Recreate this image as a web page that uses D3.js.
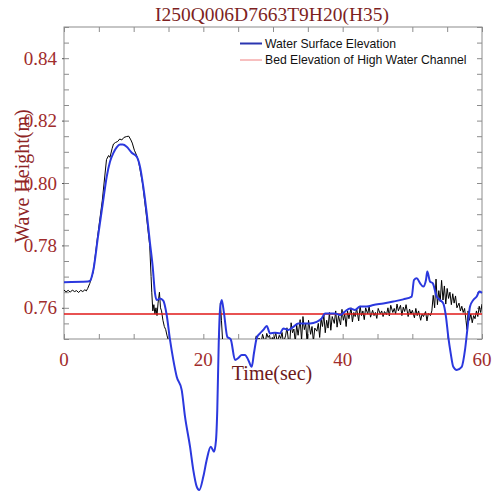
<!DOCTYPE html>
<html>
<head>
<meta charset="utf-8">
<script src="https://cdn.jsdelivr.net/npm/d3@7"></script>
<style>
  html, body { margin: 0; padding: 0; background: #fff; }
  svg { display: block; }
</style>
</head>
<body>
<svg id="chart" width="498" height="491"></svg>
<script>
// ---------- DATA ----------
const chartTitle = "I250Q006D7663T9H20(H35)";
const xLabel = "Time(sec)";
const yLabel = "Wave Height(m)";
const legendLabels = ["Water Surface Elevation", "Bed Elevation of High Water Channel"];
const xTickValues = [0, 20, 40, 60];
const yTickValues = [0.76, 0.78, 0.80, 0.82, 0.84];
const bedElevation = 0.758;

// simulated water surface elevation [time (s), height (m)]
const simulated = [
  [0, 0.7682], [3.44, 0.7684], [3.73, 0.7686], [4.21, 0.7721], [4.88, 0.7828],
  [5.64, 0.7946], [6.13, 0.8020], [6.60, 0.8068], [7.08, 0.8096], [7.56, 0.8114],
  [8.04, 0.8123], [8.43, 0.8123], [9.0, 0.8116], [9.72, 0.8097], [10.44, 0.8084],
  [10.91, 0.8052], [11.38, 0.7988], [11.87, 0.7904], [12.34, 0.7808], [12.73, 0.7732],
  [13.06, 0.7647], [13.31, 0.7625], [13.78, 0.7630], [14.25, 0.7623], [14.74, 0.7577],
  [15.22, 0.7497], [15.69, 0.7433], [16.18, 0.7379], [16.89, 0.7337], [17.37, 0.7251],
  [18.09, 0.7155], [18.56, 0.7080], [19.05, 0.7027], [19.42, 0.7016], [20.0, 0.7059],
  [20.48, 0.7112], [21.06, 0.7155], [21.53, 0.7139], [21.82, 0.7176], [22.0, 0.7272],
  [22.21, 0.7487], [22.39, 0.7593], [22.64, 0.7625], [22.97, 0.7582], [23.44, 0.7507],
  [23.93, 0.7499], [24.55, 0.7433], [25.02, 0.7439], [25.51, 0.7449], [25.98, 0.7449],
  [26.45, 0.7433], [26.94, 0.7411], [27.27, 0.7455], [27.66, 0.7503], [28.13, 0.7518],
  [28.61, 0.7529], [29.10, 0.7542], [29.57, 0.7518], [30.29, 0.7520], [31.0, 0.7518],
  [31.48, 0.7534], [32.2, 0.7529], [32.91, 0.7539], [33.63, 0.7550], [34.35, 0.7550],
  [35.31, 0.7550], [36.27, 0.7555], [36.99, 0.7566], [37.46, 0.7582], [38.18, 0.7582],
  [38.90, 0.7582], [39.62, 0.7577], [40.33, 0.7588], [41.05, 0.7598], [41.77, 0.7593],
  [42.49, 0.7604], [43.45, 0.7604], [44.40, 0.7609], [45.83, 0.7614], [47.27, 0.7620],
  [48.70, 0.7627], [49.91, 0.7636], [50.24, 0.7689], [50.63, 0.7695], [51.10, 0.7679],
  [51.57, 0.7668], [51.96, 0.7689], [52.15, 0.7716], [52.54, 0.7684], [52.92, 0.7679],
  [53.50, 0.7636], [53.97, 0.7625], [54.44, 0.7614], [54.83, 0.7571], [55.16, 0.7507],
  [55.51, 0.7454], [55.88, 0.7411], [56.37, 0.7401], [57.09, 0.7411], [57.56, 0.7465],
  [57.89, 0.7529], [58.28, 0.7604], [58.75, 0.7625], [59.24, 0.7636], [59.61, 0.7652],
  [60, 0.7648]
];

// measured water surface [time (s), height (m)]
const measured = [
  [0, 0.7657], [0.3, 0.7651], [0.6, 0.7656], [0.9, 0.7650], [1.2, 0.7657], [1.5, 0.7652],
  [1.8, 0.7655], [2.1, 0.7649], [2.4, 0.7656], [2.7, 0.7652], [3.0, 0.7658], [3.2, 0.7654],
  [3.4, 0.7662], [3.7, 0.7678], [4.2, 0.7715], [4.8, 0.7825], [5.5, 0.7945],
  [6.1, 0.8075], [6.4, 0.8088], [6.6, 0.8082], [6.9, 0.8110], [7.1, 0.8125], [7.4, 0.8130],
  [7.7, 0.8133], [8.0, 0.8141], [8.3, 0.8138], [8.6, 0.8146], [9.0, 0.8149], [9.3, 0.8150],
  [9.6, 0.8138], [9.8, 0.8128], [10.1, 0.8105], [10.4, 0.8090], [10.7, 0.8070],
  [11.3, 0.7995], [11.8, 0.7900], [12.3, 0.7800], [12.5, 0.7700], [12.6, 0.7650],
  [12.75, 0.7590], [12.9, 0.7610], [13.05, 0.7580], [13.2, 0.7600], [13.35, 0.7575],
  [13.5, 0.7615], [13.7, 0.7650], [13.85, 0.7600], [14.0, 0.7590], [14.2, 0.7560],
  [14.4, 0.7540], [14.6, 0.7530], [14.8, 0.7510], [15.0, 0.7495], [15.3, 0.7450],
  [16, 0.7380], [18, 0.7200], [20, 0.7150], [21.5, 0.7200], [22.0, 0.7400], [22.3, 0.7520],
  [22.45, 0.7615], [22.6, 0.7560], [22.8, 0.7480], [23.5, 0.7420], [25, 0.7420],
  [26.5, 0.7440], [27.2, 0.7480],
  [27.4, 0.7492], [27.6, 0.7510], [27.8, 0.7495], [28.0, 0.7503], [28.3, 0.7488],
  [28.5, 0.7515], [28.7, 0.7500], [28.9, 0.7490], [29.1, 0.7518], [29.3, 0.7505],
  [29.5, 0.7512], [29.7, 0.7488], [29.9, 0.7505], [30.1, 0.7495], [30.4, 0.7520],
  [30.6, 0.7490], [30.9, 0.7512], [31.1, 0.7502], [31.3, 0.7521], [31.5, 0.7488],
  [31.8, 0.7510], [32.0, 0.7536], [32.2, 0.7498], [32.4, 0.7488], [32.6, 0.7552],
  [32.8, 0.7520], [33.0, 0.7532], [33.2, 0.7490], [33.4, 0.7545], [33.6, 0.7512],
  [33.9, 0.7562], [34.1, 0.7495], [34.3, 0.7572], [34.5, 0.7530], [34.7, 0.7548],
  [34.9, 0.7488], [35.1, 0.7560], [35.4, 0.7515], [35.6, 0.7540], [35.8, 0.7492],
  [36.0, 0.7535], [36.3, 0.7525], [36.5, 0.7550], [36.7, 0.7505], [36.9, 0.7565],
  [37.1, 0.7540], [37.3, 0.7578], [37.5, 0.7520], [37.7, 0.7560], [37.9, 0.7535],
  [38.1, 0.7585], [38.3, 0.7528], [38.5, 0.7572], [38.8, 0.7550], [39.0, 0.7590],
  [39.2, 0.7538], [39.4, 0.7575], [39.7, 0.7545], [39.9, 0.7595], [40.1, 0.7560],
  [40.3, 0.7580], [40.5, 0.7540], [40.7, 0.7590], [40.9, 0.7565], [41.2, 0.7600],
  [41.4, 0.7555], [41.6, 0.7585], [41.8, 0.7572], [42.0, 0.7598], [42.3, 0.7558],
  [42.5, 0.7606], [42.7, 0.7575], [42.9, 0.7590], [43.1, 0.7562], [43.3, 0.7600],
  [43.6, 0.7580], [43.8, 0.7605], [44.0, 0.7570], [44.3, 0.7592], [44.5, 0.7575],
  [44.7, 0.7585], [44.9, 0.7566], [45.1, 0.7598], [45.4, 0.7580], [45.6, 0.7590],
  [45.8, 0.7572], [46.0, 0.7588], [46.3, 0.7578], [46.5, 0.7600], [46.7, 0.7574],
  [46.9, 0.7608], [47.2, 0.7585], [47.4, 0.7598], [47.6, 0.7580], [47.8, 0.7612],
  [48.0, 0.7590], [48.3, 0.7608], [48.5, 0.7575], [48.7, 0.7602], [48.9, 0.7588],
  [49.1, 0.7610], [49.4, 0.7572], [49.6, 0.7596], [49.8, 0.7580], [50.0, 0.7592],
  [50.3, 0.7568], [50.5, 0.7598], [50.7, 0.7575], [50.9, 0.7590], [51.2, 0.7560],
  [51.4, 0.7580], [51.6, 0.7572], [51.9, 0.7588], [52.1, 0.7558], [52.3, 0.7582],
  [52.6, 0.7575], [52.8, 0.7590], [53.0, 0.7640], [53.2, 0.7600], [53.4, 0.7692],
  [53.6, 0.7610], [53.8, 0.7655], [54.0, 0.7620], [54.2, 0.7688], [54.4, 0.7625],
  [54.6, 0.7670], [54.8, 0.7612], [55.0, 0.7662], [55.2, 0.7630], [55.4, 0.7650],
  [55.6, 0.7610], [55.8, 0.7645], [56.0, 0.7615], [56.2, 0.7638], [56.4, 0.7600],
  [56.7, 0.7615], [56.9, 0.7590], [57.1, 0.7605], [57.3, 0.7585], [57.5, 0.7598],
  [57.7, 0.7560], [57.85, 0.7530], [58.0, 0.7590], [58.2, 0.7560], [58.4, 0.7580],
  [58.6, 0.7552], [58.8, 0.7575], [59.0, 0.7565], [59.2, 0.7590], [59.4, 0.7572],
  [59.6, 0.7605], [59.8, 0.7585], [60.0, 0.7612]
];

// ---------- LAYOUT ----------
const svg = d3.select("#chart");
const plot = { left: 64, right: 482, top: 27, bottom: 339 };
const x = d3.scaleLinear().domain([0, 60]).range([plot.left, plot.right]);
const y = d3.scaleLinear().domain([0.75, 0.85]).range([plot.bottom, plot.top]);

const labelColor = "#a02c2c";
const titleColor = "#7d1f1f";
const serif = "'Liberation Serif', 'Times New Roman', serif";
const sans = "'Liberation Sans', Arial, sans-serif";

svg.append("defs").append("clipPath").attr("id", "plotClip")
  .append("rect")
  .attr("x", plot.left).attr("y", plot.top)
  .attr("width", plot.right - plot.left).attr("height", plot.bottom - plot.top);

// frame
svg.append("rect")
  .attr("x", plot.left).attr("y", plot.top)
  .attr("width", plot.right - plot.left).attr("height", plot.bottom - plot.top)
  .attr("fill", "none").attr("stroke", "#8c8c8c").attr("stroke-width", 1);

// axes with inward ticks
const xMinor = d3.range(0, 61, 5);
const yMinor = d3.range(0.75, 0.8501, 0.005);

svg.append("g").attr("transform", `translate(0,${plot.bottom})`)
  .call(d3.axisTop(x).tickValues(xMinor).tickSize(5).tickFormat(""))
  .call(g => g.select(".domain").remove())
  .call(g => g.selectAll("line").attr("stroke", "#8c8c8c"));
svg.append("g").attr("transform", `translate(0,${plot.top})`)
  .call(d3.axisBottom(x).tickValues(xMinor).tickSize(5).tickFormat(""))
  .call(g => g.select(".domain").remove())
  .call(g => g.selectAll("line").attr("stroke", "#8c8c8c"));
svg.append("g").attr("transform", `translate(${plot.left},0)`)
  .call(d3.axisRight(y).tickValues(yMinor).tickSize(5).tickFormat(""))
  .call(g => g.select(".domain").remove())
  .call(g => g.selectAll("line").attr("stroke", "#8c8c8c"));
svg.append("g").attr("transform", `translate(${plot.right},0)`)
  .call(d3.axisLeft(y).tickValues(yMinor).tickSize(5).tickFormat(""))
  .call(g => g.select(".domain").remove())
  .call(g => g.selectAll("line").attr("stroke", "#8c8c8c"));

// major tick outward stubs on left
svg.append("g").attr("transform", `translate(${plot.left},0)`)
  .call(d3.axisLeft(y).tickValues(yTickValues).tickSize(2).tickFormat(""))
  .call(g => g.select(".domain").remove())
  .call(g => g.selectAll("line").attr("stroke", "#555"));

// tick labels
svg.append("g").selectAll("text").data(xTickValues).join("text")
  .attr("x", d => x(d)).attr("y", 366)
  .attr("text-anchor", "middle")
  .attr("font-family", serif).attr("font-size", 19)
  .attr("fill", labelColor)
  .text(d => d);
svg.append("g").selectAll("text").data(yTickValues).join("text")
  .attr("x", 57).attr("y", d => y(d) + 6.5)
  .attr("text-anchor", "end")
  .attr("font-family", serif).attr("font-size", 19)
  .attr("fill", labelColor)
  .text(d => d.toFixed(2));

// title & axis labels
svg.append("text").attr("x", 272).attr("y", 21)
  .attr("text-anchor", "middle").attr("font-family", serif).attr("font-size", 19.5)
  .attr("fill", titleColor).text(chartTitle);
svg.append("text").attr("x", 272).attr("y", 380)
  .attr("text-anchor", "middle").attr("font-family", serif).attr("font-size", 20)
  .attr("fill", "#6e1a1a").text(xLabel);
svg.append("text")
  .attr("transform", "translate(29,176) rotate(-90)")
  .attr("text-anchor", "middle").attr("font-family", serif).attr("font-size", 20)
  .attr("fill", "#8e2424").text(yLabel);

// lines
const line = d3.line().x(d => x(d[0])).y(d => y(d[1]));

svg.append("path").datum(measured)
  .attr("clip-path", "url(#plotClip)")
  .attr("d", line)
  .attr("fill", "none").attr("stroke", "#000").attr("stroke-width", 1);

svg.append("line")
  .attr("x1", x(0)).attr("x2", x(60))
  .attr("y1", y(bedElevation)).attr("y2", y(bedElevation))
  .attr("stroke", "#e01818").attr("stroke-width", 1.5);

svg.append("path").datum(simulated)
  .attr("d", line.curve(d3.curveMonotoneX))
  .attr("fill", "none").attr("stroke", "#2b38de").attr("stroke-width", 2)
  .attr("stroke-linejoin", "round");

// legend
const legend = svg.append("g");
const legendColors = ["#2a35b0", "#f08080"];
const legendWidths = [2, 1];
legendLabels.forEach((lab, i) => {
  const ly = 43.5 + i * 16.5;
  legend.append("line").attr("x1", 240).attr("x2", 262).attr("y1", ly).attr("y2", ly)
    .attr("stroke", legendColors[i]).attr("stroke-width", legendWidths[i]);
  legend.append("text").attr("x", 265).attr("y", ly + 4.3)
    .attr("font-family", sans).attr("font-size", 12.2).attr("fill", "#111")
    .text(lab);
});
</script>
</body>
</html>
